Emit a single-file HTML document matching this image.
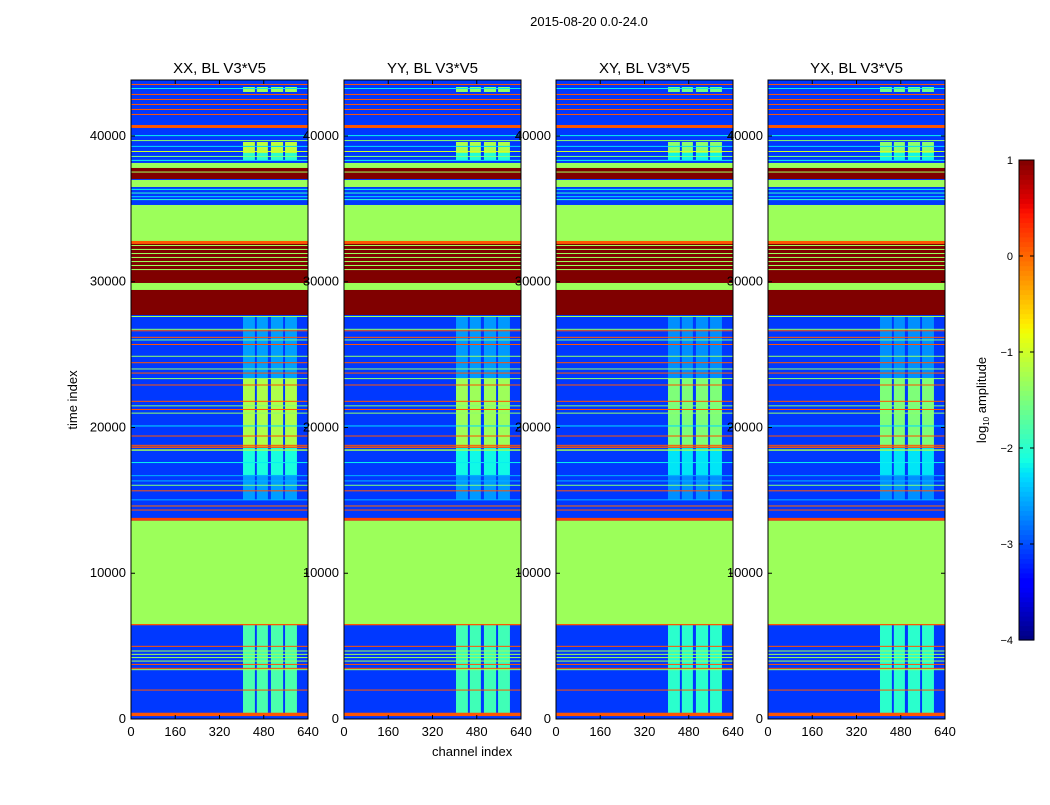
<!DOCTYPE html>
<html><head><meta charset="utf-8">
<style>
body{margin:0;background:#fff;}
svg text{font-family:"Liberation Sans",sans-serif;fill:#000;}
</style></head>
<body>
<svg id="fig" width="1050" height="800" viewBox="0 0 1050 800" xmlns="http://www.w3.org/2000/svg">
<rect width="1050" height="800" fill="#fff"/>
<text x="589" y="26" font-size="13" text-anchor="middle">2015-08-20 0.0-24.0</text>
<text x="432" y="756" font-size="13">channel index</text>
<text transform="translate(77,400) rotate(-90)" font-size="13" text-anchor="middle">time index</text>
<text transform="translate(986,400) rotate(-90)" font-size="13" text-anchor="middle">log<tspan font-size="8" dy="3">10</tspan><tspan dy="-3"> amplitude</tspan></text>
<g id="panels"></g>
<g id="cbar"></g>
</svg>
<script>
// ---- data ----
const panelTitles = ["XX, BL V3*V5","YY, BL V3*V5","XY, BL V3*V5","YX, BL V3*V5"];
const sourceScale = [1.0, 0.95, 0.85, 0.85];
const xTicks = [0,160,320,480,640];
const yTicks = [0,10000,20000,30000,40000];
const cbTicks = [1,0,-1,-2,-3,-4];
const tMax = 43840;
const background = -3.1;
// full-width time bands
const bandStart = [43500,43223,42814,42470,42127,41784,41441,40548,39990,39650,39250,38900,38560,38290,37804,37049,37490,36500,36300,36050,35800,35600,32796,32590,30669,30800,31080,31350,31630,31900,32180,32450,29914,29434,27719,27580,26700,26600,26150,25970,25660,24850,24410,23980,23700,23320,22880,21760,21450,21200,20950,20070,19380,18740,18600,18400,17560,16660,16300,16000,15620,15000,14580,14300,13600,6518,6430,4950,4630,4400,4180,3940,3710,3440,3350,1950,200];
const bandEnd   = [43570,43290,42884,42540,42197,41854,41511,40754,40060,39720,39320,38970,38630,38360,38147,37804,37560,36981,36370,36120,35870,35670,35266,32796,32590,30870,31150,31420,31700,31970,32250,32520,30669,29914,29434,27650,26770,26670,26220,26040,25730,24920,24480,24050,23770,23390,22950,21830,21520,21270,21020,20140,19450,18810,18700,18500,17630,16730,16370,16070,15690,15070,14650,14370,13800,13600,6518,5020,4700,4470,4250,4010,3780,3510,3420,2020,430];
const bandValue = [0.1,-2.2,0.1,0.1,0.1,0.1,0.1,0.1,-2.2,-1.4,-2.3,-1.0,-1.5,-2.2,-1.3,1.0,-1.3,-1.3,-2.2,-2.0,-2.3,-2.0,-1.3,0.1,1.0,-1.3,-1.3,-1.3,-1.3,-1.3,-1.3,-1.3,1.0,-1.3,1.0,-1.3,-1.4,0.1,0.1,-1.6,0.1,-1.4,0.1,-1.4,0.1,-1.4,0.1,0.1,-1.5,0.1,-1.4,-2.3,0.1,0.1,0.1,-1.3,-2.2,-2.5,-2.5,-1.5,0.1,-2.5,0.0,0.1,0.2,-1.3,0.1,0.1,-1.3,-1.3,-1.3,-1.3,0.1,0.1,-1.3,0.1,0.1];
// source columns (channels)
const srcChanStart = [405,455,506,557];
const srcChanEnd   = [448,495,550,600];
// source time blocks
const srcStart = [43018,38833,38350,23395,18662,16741,15025,343];
const srcEnd   = [43360,39588,38833,27650,23395,18662,16741,6450];
const srcValue = [-1.3,-1.1,-2.0,-2.6,-1.2,-2.1,-2.6,-1.8];

// ---- helpers ----
const jetR=[[0,0],[0.35,0],[0.66,1],[0.89,1],[1,0.5]];
const jetG=[[0,0],[0.125,0],[0.375,1],[0.64,1],[0.91,0],[1,0]];
const jetB=[[0,0.5],[0.11,1],[0.34,1],[0.65,0],[1,0]];
function interp(seg,x){for(let i=1;i<seg.length;i++){if(x<=seg[i][0]){const a=seg[i-1],b=seg[i];return a[1]+(b[1]-a[1])*(x-a[0])/(b[0]-a[0]);}}return seg[seg.length-1][1];}
function jet(v){
  let x=(v+4)/5; x=Math.max(0,Math.min(1,x));
  return `rgb(${Math.round(interp(jetR,x)*255)},${Math.round(interp(jetG,x)*255)},${Math.round(interp(jetB,x)*255)})`;
}
const NS="http://www.w3.org/2000/svg";
function mk(tag,attrs,parent){const e=document.createElementNS(NS,tag);for(const k in attrs)e.setAttribute(k,attrs[k]);parent.appendChild(e);return e;}
const panelLeft=[131,344,556,768], panelW=177, plotTop=80, plotBottom=719;
const panelsG=document.getElementById('panels');

panelTitles.forEach((title,p)=>{
  const L=panelLeft[p];
  const xs=c=>L+c/640*panelW;
  const ys=t=>plotBottom-t/tMax*(plotBottom-plotTop);
  const g=mk('g',{},panelsG);
  
  
  const bg=mk('rect',{x:L,y:plotTop,width:panelW,height:plotBottom-plotTop,fill:jet(background)},g);
  
  
  for(let i=0;i<srcStart.length;i++){
    for(let c=0;c<srcChanStart.length;c++){
      const v=background+(srcValue[i]-background)*sourceScale[p];
      const r=mk('rect',{x:xs(srcChanStart[c]),y:ys(srcEnd[i]),width:xs(srcChanEnd[c])-xs(srcChanStart[c]),height:Math.max(0.8,ys(srcStart[i])-ys(srcEnd[i])),fill:jet(v)},g);
      
      
    }
  }
  for(let i=0;i<bandStart.length;i++){
    const r=mk('rect',{x:L,y:ys(bandEnd[i]),width:panelW,height:Math.max(1,ys(bandStart[i])-ys(bandEnd[i])),fill:jet(bandValue[i])},g);
    
    
  }
  const fr=mk('rect',{x:L,y:plotTop,width:panelW,height:plotBottom-plotTop,fill:'none',stroke:'#000','stroke-width':1},g);
  
  
  const tt=mk('text',{x:L+panelW/2,y:73,'font-size':15,'text-anchor':'middle'},g);
  tt.textContent=title;
  
  
  xTicks.forEach(v=>{
    mk('line',{x1:xs(v),x2:xs(v),y1:plotBottom,y2:plotBottom-4,stroke:'#000'},g);
    mk('line',{x1:xs(v),x2:xs(v),y1:plotTop,y2:plotTop+4,stroke:'#000'},g);
    const t=mk('text',{x:xs(v),y:736,'font-size':13,'text-anchor':'middle'},g);
    t.textContent=v;
    
    
  });
  yTicks.forEach(v=>{
    mk('line',{x1:L,x2:L+4,y1:ys(v),y2:ys(v),stroke:'#000'},g);
    mk('line',{x1:L+panelW,x2:L+panelW-4,y1:ys(v),y2:ys(v),stroke:'#000'},g);
    const t=mk('text',{x:L-5,y:ys(v)+4,'font-size':13,'text-anchor':'end'},g);
    t.textContent=v;
    
    
  });
});

// colorbar
const cb=document.getElementById('cbar');
const cbX=1019,cbW=15,cbTop=160,cbBot=640;
const cy=v=>cbBot-(v+4)/5*(cbBot-cbTop);
for(let i=0;i<100;i++){
  const v0=-4+i*0.05;
  const r=mk('rect',{x:cbX,y:cy(v0+0.05),width:cbW,height:(cbBot-cbTop)/100+0.6,fill:jet(v0+0.025)},cb);
  
  
}
const cbf=mk('rect',{x:cbX,y:cbTop,width:cbW,height:cbBot-cbTop,fill:'none',stroke:'#000'},cb);


cbTicks.forEach(v=>{
  mk('line',{x1:cbX,x2:cbX+4,y1:cy(v),y2:cy(v),stroke:'#000'},cb);
  mk('line',{x1:cbX+cbW,x2:cbX+cbW-4,y1:cy(v),y2:cy(v),stroke:'#000'},cb);
  const t=mk('text',{x:cbX-6,y:cy(v)+4,'font-size':11,'text-anchor':'end'},cb);
  t.textContent=v<0?'\u2212'+(-v):String(v);
  
  
});
</script>
</body></html>
